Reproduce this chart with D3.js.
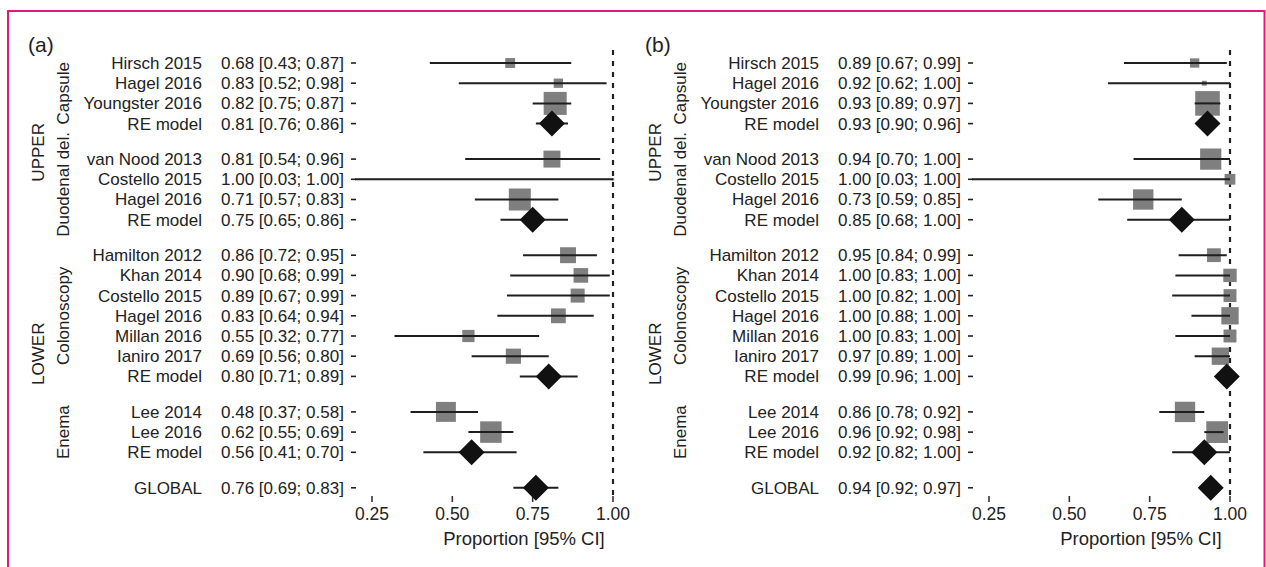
<!DOCTYPE html>
<html><head><meta charset="utf-8">
<script src="https://cdn.jsdelivr.net/npm/d3@7"></script>
<style>
body{margin:0;background:#fff}
svg text{font-family:"Liberation Sans",Arial,Helvetica,sans-serif;fill:#222}
</style>
</head><body><svg id="c" width="1266" height="567"></svg>
<script>
// ---------- data ----------
const studies = ["Hirsch 2015","Hagel 2016","Youngster 2016","RE model",
  "van Nood 2013","Costello 2015","Hagel 2016","RE model",
  "Hamilton 2012","Khan 2014","Costello 2015","Hagel 2016","Millan 2016","Ianiro 2017","RE model",
  "Lee 2014","Lee 2016","RE model",
  "GLOBAL"];
const subgroups = ["Capsule","Capsule","Capsule","Capsule",
  "Duodenal del.","Duodenal del.","Duodenal del.","Duodenal del.",
  "Colonoscopy","Colonoscopy","Colonoscopy","Colonoscopy","Colonoscopy","Colonoscopy","Colonoscopy",
  "Enema","Enema","Enema",
  "GLOBAL"];
const routes = ["UPPER","UPPER","UPPER","UPPER","UPPER","UPPER","UPPER","UPPER",
  "LOWER","LOWER","LOWER","LOWER","LOWER","LOWER","LOWER","LOWER","LOWER","LOWER",
  ""];
const summaryRow = [0,0,0,1, 0,0,0,1, 0,0,0,0,0,0,1, 0,0,1, 1];

// panel (a)
const estA  = [0.68,0.83,0.82,0.81, 0.81,1.00,0.71,0.75, 0.86,0.90,0.89,0.83,0.55,0.69,0.80, 0.48,0.62,0.56, 0.76];
const lowA  = [0.43,0.52,0.75,0.76, 0.54,0.03,0.57,0.65, 0.72,0.68,0.67,0.64,0.32,0.56,0.71, 0.37,0.55,0.41, 0.69];
const highA = [0.87,0.98,0.87,0.86, 0.96,1.00,0.83,0.86, 0.95,0.99,0.99,0.94,0.77,0.80,0.89, 0.58,0.69,0.70, 0.83];
const weightA = [17,15,92,0, 50,1,84,0, 44,37,34,38,26,40,0, 69,80,0, 0];

// panel (b)
const estB  = [0.89,0.92,0.93,0.93, 0.94,1.00,0.73,0.85, 0.95,1.00,1.00,1.00,1.00,0.97,0.99, 0.86,0.96,0.92, 0.94];
const lowB  = [0.67,0.62,0.89,0.90, 0.70,0.03,0.59,0.68, 0.84,0.83,0.82,0.88,0.83,0.89,0.96, 0.78,0.92,0.82, 0.92];
const highB = [0.99,1.00,0.97,0.96, 1.00,1.00,0.85,1.00, 0.99,1.00,1.00,1.00,1.00,1.00,1.00, 0.92,0.98,1.00, 0.97];
const weightB = [15,4,105,0, 78,20,72,0, 33,31,29,52,29,52,0, 72,82,0, 0];

const xTicks = [0.25,0.50,0.75,1.00];
const panelTags = ["(a)","(b)"];
const axisTitle = "Proportion [95% CI]";

// ---------- drawing ----------
const svg = d3.select("#c");
const FONT = 17;

// frame
svg.append("rect").attr("x",8).attr("y",11).attr("width",1256.5).attr("height",600)
  .attr("fill","none").attr("stroke","#e2187c").attr("stroke-width",2);

// row positions
const rowStep = 20.2, groupGap = 35.5;
const rowY = [];
let yy = 63;
studies.forEach((s,i)=>{
  if(i>0){ yy += (subgroups[i]!==subgroups[i-1]) ? groupGap : rowStep; }
  rowY.push(yy);
});

const fmt = d3.format(".2f");
const side = d3.scaleSqrt().domain([0,100]).range([0,24]);

function panel(k, est, low, high, weight){
  const dx = k*617;
  const g = svg.append("g").attr("transform",`translate(${dx},0)`);
  const x = d3.scaleLinear().domain([0.25,1]).range([372,613]);
  const left = 355, right = 645;

  g.append("text").attr("x",28).attr("y",52).attr("font-size",21).text(panelTags[k]);

  // route labels
  const routeNames = Array.from(new Set(routes.filter(r=>r)));
  routeNames.forEach(r=>{
    const ys = rowY.filter((d,i)=>routes[i]===r);
    const cy = (d3.min(ys)+d3.max(ys))/2 + (r==="UPPER"?11:0);
    g.append("text").attr("transform",`translate(38,${cy}) rotate(-90)`)
      .attr("text-anchor","middle").attr("dy","0.35em").attr("font-size",FONT).text(r);
  });
  // subgroup labels
  const subNames = Array.from(new Set(subgroups.filter((s,i)=>routes[i])));
  subNames.forEach(s=>{
    const ys = rowY.filter((d,i)=>subgroups[i]===s);
    const cy = (d3.min(ys)+d3.max(ys))/2 + (s==="Duodenal del."?-5:0);
    g.append("text").attr("transform",`translate(63,${cy}) rotate(-90)`)
      .attr("text-anchor","middle").attr("dy","0.35em").attr("font-size",FONT).text(s);
  });

  // row labels
  g.selectAll("text.lab").data(studies).join("text").attr("class","lab")
    .attr("x",202).attr("y",(d,i)=>rowY[i]).attr("dy","0.35em")
    .attr("text-anchor","end").attr("font-size",FONT).text(d=>d);
  g.selectAll("text.ann").data(est).join("text").attr("class","ann")
    .attr("x",221).attr("y",(d,i)=>rowY[i]).attr("dy","0.35em")
    .attr("font-size",FONT).text((d,i)=>`${fmt(d)} [${fmt(low[i])}; ${fmt(high[i])}]`);
  // y ticks
  g.selectAll("line.yt").data(rowY).join("line").attr("class","yt")
    .attr("x1",351).attr("x2",356).attr("y1",d=>d).attr("y2",d=>d)
    .attr("stroke","#222").attr("stroke-width",1.6);

  // reference line
  g.append("line").attr("x1",x(1)).attr("x2",x(1)).attr("y1",50).attr("y2",500)
    .attr("stroke","#222").attr("stroke-width",2.2).attr("stroke-dasharray","5,6");

  // x axis ticks
  g.selectAll("line.xt").data(xTicks).join("line").attr("class","xt")
    .attr("x1",d=>x(d)).attr("x2",d=>x(d)).attr("y1",496).attr("y2",502)
    .attr("stroke","#333").attr("stroke-width",1.6);
  g.selectAll("text.xl").data(xTicks).join("text").attr("class","xl")
    .attr("x",d=>x(d)).attr("y",520).attr("text-anchor","middle")
    .attr("font-size",17.5).text(d=>fmt(d));
  g.append("text").attr("x",524).attr("y",545).attr("text-anchor","middle")
    .attr("font-size",18.5).text(axisTitle);

  // clip
  const cid = "clip"+k;
  g.append("clipPath").attr("id",cid).append("rect")
    .attr("x",left).attr("y",0).attr("width",right-left).attr("height",567);
  const m = g.append("g").attr("clip-path",`url(#${cid})`);

  // squares (studies)
  const idx = d3.range(studies.length);
  m.selectAll("rect.sq").data(idx.filter(i=>!summaryRow[i])).join("rect").attr("class","sq")
    .attr("x",i=>x(est[i])-side(weight[i])/2).attr("y",i=>rowY[i]-side(weight[i])/2)
    .attr("width",i=>side(weight[i])).attr("height",i=>side(weight[i]))
    .attr("fill","#7f7f7f");
  // CI lines
  m.selectAll("line.ci").data(idx).join("line").attr("class","ci")
    .attr("x1",i=>x(low[i])).attr("x2",i=>x(high[i]))
    .attr("y1",i=>rowY[i]).attr("y2",i=>rowY[i])
    .attr("stroke","#1e1e1e").attr("stroke-width",2);
  // diamonds
  const h = 13;
  m.selectAll("path.dm").data(idx.filter(i=>summaryRow[i])).join("path").attr("class","dm")
    .attr("d",i=>{const cx=x(est[i]), cy=rowY[i];
      return `M${cx-h},${cy}L${cx},${cy-h}L${cx+h},${cy}L${cx},${cy+h}Z`;})
    .attr("fill","#111");
}

panel(0, estA, lowA, highA, weightA);
panel(1, estB, lowB, highB, weightB);
</script>
</body></html>
